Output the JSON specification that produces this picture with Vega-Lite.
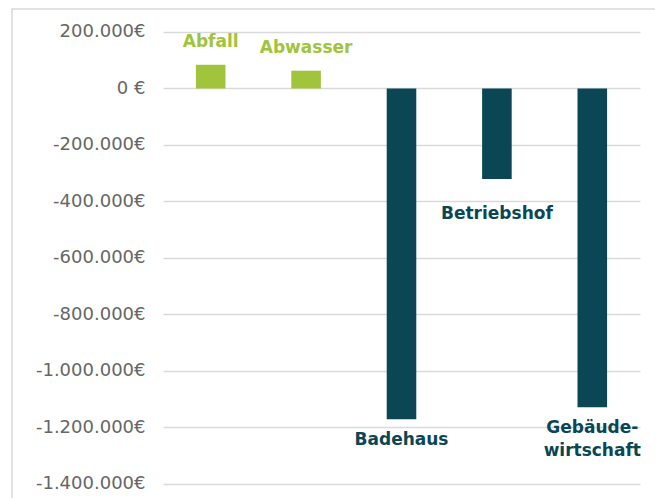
{
  "$schema": "https://vega.github.io/schema/vega-lite/v6.json",
  "autosize": {"type": "none"},
  "padding": {"left": 12, "top": 9, "right": 0, "bottom": 0},
  "width": 650,
  "height": 495,
  "background": "white",
  "config": {
    "view": {"stroke": "#D9D9D9", "strokeWidth": 1.5},
    "locale": {"number": {"decimal": ",", "thousands": ".", "grouping": [3], "currency": ["", "€"], "minus": "-"}}
  },
  "data": {
    "values": [
      {"bereich": "Abfall", "wert": 84000, "label": "Abfall", "gruppe": "pos"},
      {"bereich": "Abwasser", "wert": 63000, "label": "Abwasser", "gruppe": "pos"},
      {"bereich": "Badehaus", "wert": -1171000, "label": "Badehaus", "gruppe": "neg"},
      {"bereich": "Betriebshof", "wert": -320000, "label": "Betriebshof", "gruppe": "neg"},
      {"bereich": "Gebäudewirtschaft", "wert": -1128000, "label": ["Gebäude-", "wirtschaft"], "gruppe": "neg"}
    ]
  },
  "encoding": {
    "x": {
      "field": "bereich",
      "type": "nominal",
      "sort": null,
      "axis": null,
      "scale": {"range": [151, 628], "paddingInner": 0.69, "paddingOuter": 0.345}
    },
    "y": {
      "field": "wert",
      "type": "quantitative",
      "scale": {"domain": [-1470800, 281400], "nice": false, "zero": false},
      "axis": {
        "title": null,
        "values": [200000, 0, -200000, -400000, -600000, -800000, -1000000, -1200000, -1400000],
        "format": ",.0f",
        "labelExpr": "datum.value == 0 ? '0 €' : datum.label + '€'",
        "offset": -133,
        "domain": false,
        "ticks": false,
        "labelPadding": 0,
        "labelFont": "DejaVu Sans",
        "labelFontSize": 18,
        "labelColor": "#666666",
        "grid": true,
        "gridColor": "#D9D9D9",
        "gridWidth": 1.5
      }
    },
    "color": {
      "field": "gruppe",
      "type": "nominal",
      "scale": {"domain": ["pos", "neg"], "range": ["#A0C43C", "#0B4654"]},
      "legend": null
    }
  },
  "layer": [
    {"mark": {"type": "bar"}},
    {
      "transform": [{"filter": "datum.gruppe == 'pos'"}],
      "mark": {"type": "text", "baseline": "alphabetic", "dy": -18, "font": "DejaVu Sans", "fontWeight": "bold", "fontSize": 17},
      "encoding": {"text": {"field": "label"}}
    },
    {
      "transform": [{"filter": "datum.gruppe == 'neg' && datum.bereich != 'Betriebshof'"}],
      "mark": {"type": "text", "baseline": "top", "dy": 13, "lineHeight": 23, "font": "DejaVu Sans", "fontWeight": "bold", "fontSize": 17},
      "encoding": {"text": {"field": "label"}}
    },
    {
      "transform": [{"filter": "datum.bereich == 'Betriebshof'"}],
      "mark": {"type": "text", "baseline": "top", "dy": 27, "font": "DejaVu Sans", "fontWeight": "bold", "fontSize": 17},
      "encoding": {"text": {"field": "label"}}
    }
  ]
}
